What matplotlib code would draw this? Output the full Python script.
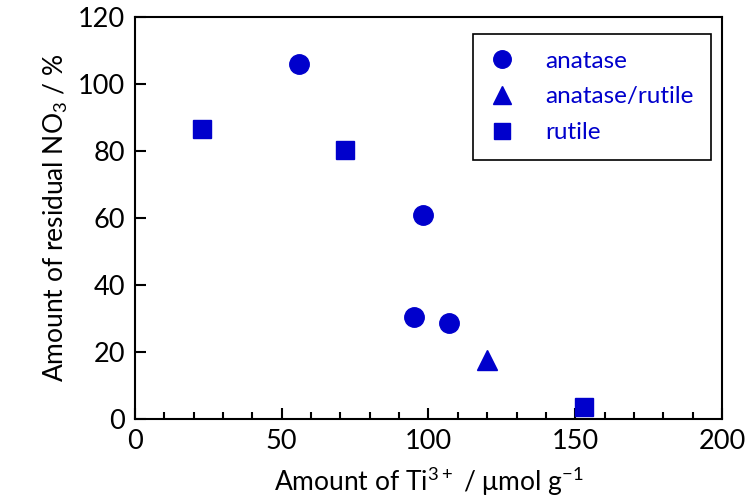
import matplotlib
matplotlib.use("Agg")
import matplotlib.pyplot as plt

plt.rcParams['font.family'] = ['Lato', 'DejaVu Sans']
plt.rcParams['mathtext.default'] = 'regular'

blue = '#0000cc'

anatase_x = [56, 98, 95, 107]
anatase_y = [106, 61, 30.5, 28.5]
mixed_x = [120]
mixed_y = [17.5]
rutile_x = [23, 71.5, 153]
rutile_y = [86.5, 80.3, 3.6]

fig = plt.figure(figsize=(7.53, 4.97), dpi=100)
ax = fig.add_axes([0.179, 0.157, 0.78, 0.809])

ax.plot(anatase_x, anatase_y, 'o', color=blue, markersize=14, label='anatase')
ax.plot(mixed_x, mixed_y, '^', color=blue, markersize=14, label='anatase/rutile')
ax.plot(rutile_x, rutile_y, 's', color=blue, markersize=13, label='rutile')

ax.set_xlim(0, 200)
ax.set_ylim(0, 120)
ax.set_xticks([0, 50, 100, 150, 200])
ax.set_xticks(range(0, 201, 10), minor=True)
ax.set_yticks(range(0, 121, 20))
ax.tick_params(direction='in', which='major', length=8, width=1.5, labelsize=19.5, pad=7)
ax.tick_params(direction='in', which='minor', length=5, width=1.5)
for s in ax.spines.values():
    s.set_linewidth(1.5)

ax.set_xlabel('Amount of Ti$^{3+}$ / μmol g$^{-1}$', fontsize=19, labelpad=8)
ax.set_ylabel('Amount of residual NO$_3$ / %', fontsize=19, labelpad=6)

leg = ax.legend(loc='upper right', bbox_to_anchor=(0.981, 0.958), fontsize=17.5,
                fancybox=False, edgecolor='black', framealpha=1,
                labelcolor=blue, markerscale=0.9, handlelength=1.0,
                handletextpad=1.3, borderpad=0.7, labelspacing=0.6,
                borderaxespad=0)
leg.get_frame().set_linewidth(1.2)

fig.savefig('out.png', dpi=100)
